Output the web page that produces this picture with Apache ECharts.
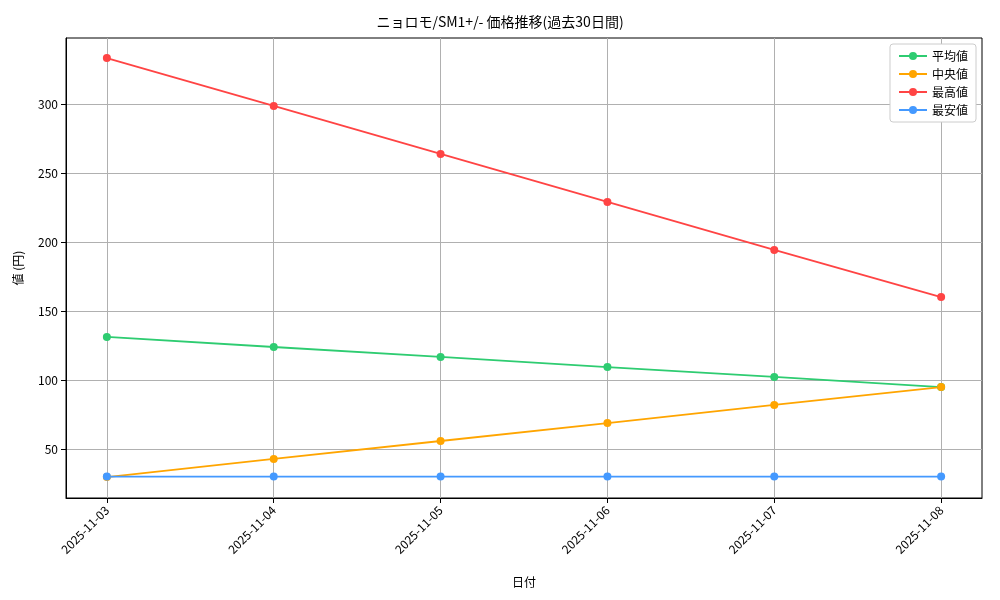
<!DOCTYPE html>
<html><head><meta charset="utf-8">
<script src="https://cdn.jsdelivr.net/npm/echarts@6/dist/echarts.min.js"></script>
<style>body{margin:0}#c{width:1000px;height:600px}</style></head>
<body><div id="c"></div>
<script>
const dates=['2025-11-03','2025-11-04','2025-11-05','2025-11-06','2025-11-07','2025-11-08'];
const avgVals=[131.2,123.9,116.7,109.4,102.2,94.9];
const medVals=[29.7,42.8,55.8,68.8,81.9,94.9];
const maxVals=[333.3,298.6,263.8,229.0,194.2,160.1];
const minVals=[30,30,30,30,30,30];
const yTicks=[50,100,150,200,250,300];
const F='"Noto Sans CJK JP", sans-serif';
const mk=(name,vals,color)=>({name,type:'line',data:vals.map((v,i)=>[i,v]),symbol:'circle',symbolSize:8,
  lineStyle:{color,width:1.8},itemStyle:{color},z:3});
const chart=echarts.init(document.getElementById('c'));
chart.setOption({
  animation:false,
  textStyle:{fontFamily:F},
  title:{text:'ニョロモ/SM1+/- 価格推移(過去30日間)',left:'center',top:10,textStyle:{fontFamily:F,fontSize:14,fontWeight:'normal',color:'#000'}},
  legend:{top:44,right:24,orient:'vertical',itemGap:6,backgroundColor:'#fff',borderColor:'#ccc',borderWidth:1,borderRadius:3,padding:[6,8],
    textStyle:{fontFamily:F,fontSize:12,color:'#000'},itemWidth:28,itemHeight:10,
    data:['平均値','中央値','最高値','最安値']},
  grid:{left:66,right:18,top:38,bottom:102,show:true,borderColor:'#000',borderWidth:1,backgroundColor:'transparent'},
  xAxis:{type:'value',min:-0.245,max:5.245,name:'日付',nameLocation:'middle',nameGap:78,nameTextStyle:{fontFamily:F,fontSize:12,color:'#000'},
    axisLine:{onZero:false,lineStyle:{color:'#000'}},axisTick:{customValues:[0,1,2,3,4,5],lineStyle:{color:'#000'}},
    axisLabel:{customValues:[0,1,2,3,4,5],rotate:45,color:'#000',fontSize:12,margin:10,formatter:v=>dates[Math.round(v)]},
    splitLine:{show:true,lineStyle:{color:'#b0b0b0'}}},
  yAxis:{type:'value',min:14.5,max:347.8,name:'値 (円)',nameLocation:'middle',nameGap:42,nameTextStyle:{fontFamily:F,fontSize:12,color:'#000'},
    axisLine:{show:true,onZero:false,lineStyle:{color:'#000'}},axisTick:{show:true,customValues:yTicks,lineStyle:{color:'#000'}},
    axisLabel:{customValues:yTicks,color:'#000',fontSize:12},
    splitLine:{show:true,lineStyle:{color:'#b0b0b0'}}},
  series:[mk('平均値',avgVals,'#2ecc71'),mk('中央値',medVals,'#ffa500'),mk('最高値',maxVals,'#ff4444'),mk('最安値',minVals,'#4499ff')]
});
</script></body></html>
